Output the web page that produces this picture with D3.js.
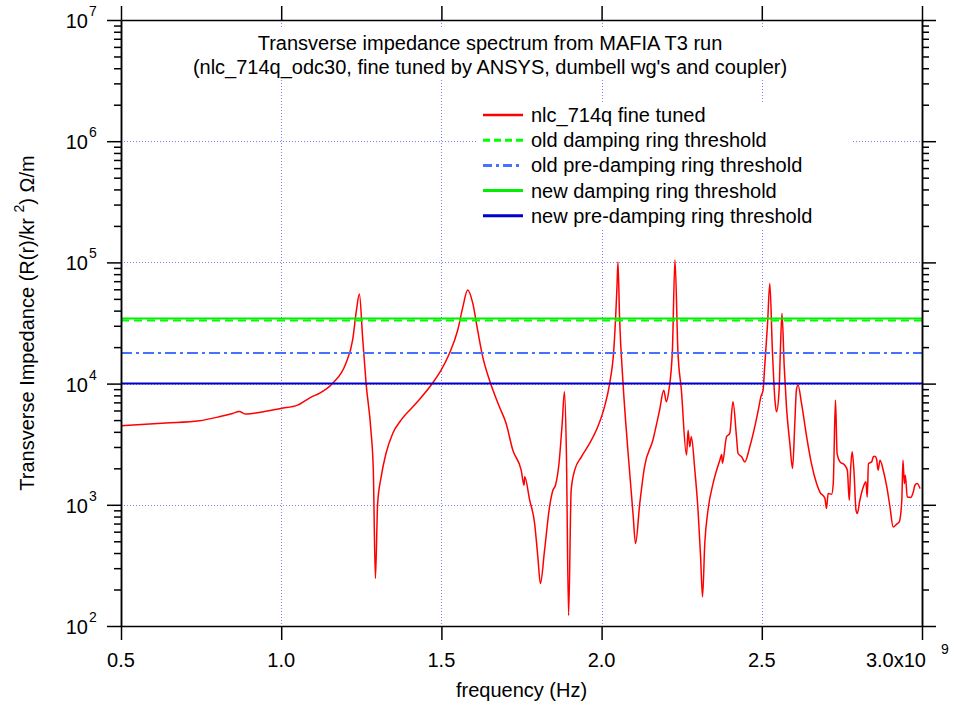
<!DOCTYPE html>
<html><head><meta charset="utf-8">
<script src="https://cdn.jsdelivr.net/npm/d3@7"></script>
<style>body{margin:0;background:#fff}svg{display:block;font-family:"Liberation Sans",Arial,Helvetica,sans-serif}</style>
</head><body><svg id="c" width="955" height="706"></svg>
<script>
// ---- data ----
const freqGHz = [0.500,0.640,0.744,0.806,0.848,0.869,0.890,0.931,0.999,1.051,1.095,1.119,1.160,1.202,1.223,1.235,1.244,1.254,1.265,1.280,1.2875,1.294,1.301,1.312,1.327,1.348,1.374,1.421,1.468,1.499,1.525,1.551,1.567,1.582,1.598,1.613,1.629,1.650,1.681,1.702,1.723,1.749,1.758,1.760,1.775,1.791,1.801,1.809,1.822,1.8375,1.848,1.856,1.867,1.877,1.884,1.890,1.897,1.905,1.916,1.937,1.9625,1.988,2.009,2.025,2.038,2.048,2.051,2.056,2.067,2.082,2.098,2.106,2.119,2.134,2.160,2.181,2.194,2.202,2.210,2.221,2.229,2.238,2.249,2.265,2.270,2.275,2.280,2.291,2.301,2.309,2.315,2.322,2.332,2.348,2.369,2.375,2.377,2.390,2.400,2.410,2.421,2.426,2.437,2.447,2.4625,2.478,2.491,2.497,2.504,2.509,2.518,2.525,2.533,2.541,2.546,2.554,2.558,2.563,2.570,2.577,2.5875,2.596,2.603,2.608,2.613,2.624,2.640,2.655,2.671,2.681,2.697,2.702,2.707,2.718,2.723,2.730,2.735,2.744,2.759,2.767,2.773,2.777,2.782,2.7875,2.794,2.798,2.806,2.817,2.825,2.829,2.833,2.843,2.848,2.853,2.858,2.863,2.869,2.879,2.890,2.900,2.910,2.921,2.929,2.937,2.9406,2.945,2.948,2.954,2.965,2.973,2.978,2.985,2.994];
const impedance = [4480,4720,4930,5320,5670,5890,5600,5780,6240,6640,7780,8300,10000,14700,22900,40500,54800,24300,10000,4130,1930,246,1023,1700,2650,3880,5000,6870,9730,12900,17700,27700,43000,59200,45900,27700,16600,10700,6430,4690,2820,1930,1450,1700,1110,700,372,224,422,962,1320,1450,2190,4690,8550,2820,122,1320,1930,2490,3210,4400,6430,10000,18900,63100,101000,35600,10000,2820,847,479,1020,2060,3410,6040,8830,7080,8830,18900,105000,18900,8830,2570,4130,3010,3640,1930,902,372,174,479,902,1500,2330,2600,2200,3640,3880,7080,3640,2650,2490,2260,3010,4400,6430,7780,8830,13800,31400,67100,18900,7310,5850,8830,18900,38000,13800,6430,3210,2000,4690,8830,9730,6870,3640,2190,1500,1280,1130,931,1240,1220,1500,7310,2650,2260,2120,1930,1090,1930,2740,1930,902,847,1090,1410,1550,1160,2190,2260,2490,2510,2400,1930,2330,1930,1410,962,656,692,723,1090,2330,1500,1750,1160,1150,1280,1450,1500,1360];
const thresholdNames = ["old damping ring threshold","old pre-damping ring threshold","new damping ring threshold","new pre-damping ring threshold"];
const thresholdValues = [33100, 17900, 34400, 10000];
const seriesName = "nlc_714q fine tuned";
const xTickValues = [0.5,1.0,1.5,2.0,2.5,3.0];
const xTickLabels = ["0.5","1.0","1.5","2.0","2.5","3.0x10"];
const yTickExponents = [2,3,4,5,6,7];
const titleLines = ["Transverse impedance spectrum from MAFIA T3 run","(nlc_714q_odc30, fine tuned by ANSYS, dumbell wg's and coupler)"];

// ---- styles ----
const thrStyles = [
  {color:"#00ff00", dash:"8,5", w:2},
  {color:"#4670ff", dash:"11,4,3,4", w:2},
  {color:"#00ee00", dash:null, w:2},
  {color:"#0000cc", dash:null, w:2}
];
const L=121, R=922, T=20, B=626;
const svg = d3.select("#c");
svg.append("rect").attr("width",955).attr("height",706).attr("fill","#fff");
const x = d3.scaleLinear().domain([0.5,3.0]).range([L,R]);
const y = d3.scaleLog().domain([1e2,1e7]).range([B,T]);

// grid
const grid = svg.append("g").attr("stroke","#7f7fff").attr("stroke-width",1).attr("stroke-dasharray","1,2");
[1.0,1.5,2.0,2.5].forEach(v=>grid.append("line").attr("x1",Math.round(x(v))+0.5).attr("x2",Math.round(x(v))+0.5).attr("y1",T).attr("y2",B));
[3,4,5,6].forEach(e=>grid.append("line").attr("x1",L).attr("x2",R).attr("y1",Math.round(y(Math.pow(10,e)))+0.5).attr("y2",Math.round(y(Math.pow(10,e)))+0.5));

// white boxes behind title and legend
svg.append("rect").attr("x",185).attr("y",29).attr("width",610).attr("height",50).attr("fill","#fff");
svg.append("rect").attr("x",478).attr("y",104).attr("width",375).attr("height",124).attr("fill","#fff");

// clip
svg.append("clipPath").attr("id","pc").append("rect").attr("x",L).attr("y",T).attr("width",R-L).attr("height",B-T);

// curve
const line = d3.line().x((d,i)=>x(freqGHz[i])).y((d,i)=>y(impedance[i])).curve(d3.curveMonotoneX);
svg.append("path").datum(impedance).attr("d",line).attr("fill","none").attr("stroke","#ff0000").attr("stroke-width",1.5).attr("clip-path","url(#pc)");

// thresholds
thresholdValues.forEach((v,i)=>{
  const s=thrStyles[i];
  const l=svg.append("line").attr("x1",L).attr("x2",R).attr("y1",y(v)).attr("y2",y(v)).attr("stroke",s.color).attr("stroke-width",s.w);
  if(s.dash) l.attr("stroke-dasharray",s.dash);
});

// axes
const minorVals=[];
for(let e=2;e<7;e++) for(let m=2;m<=9;m++) minorVals.push(m*Math.pow(10,e));
const majorVals=yTickExponents.map(e=>Math.pow(10,e));
function styleAxis(g){g.selectAll("path,line").attr("stroke","#000").attr("stroke-width",1.5);g.selectAll("text").remove();}
svg.append("g").attr("transform",`translate(${L},0)`).call(d3.axisLeft(y).tickValues(majorVals).tickSize(14).tickSizeOuter(0).tickFormat("")).call(styleAxis);
svg.append("g").attr("transform",`translate(${L},0)`).call(d3.axisLeft(y).tickValues(minorVals).tickSize(7).tickSizeOuter(0).tickFormat("")).call(styleAxis);
svg.append("g").attr("transform",`translate(${R},0)`).call(d3.axisRight(y).tickValues(majorVals).tickSize(14).tickSizeOuter(0).tickFormat("")).call(styleAxis);
svg.append("g").attr("transform",`translate(${R},0)`).call(d3.axisRight(y).tickValues(minorVals).tickSize(7).tickSizeOuter(0).tickFormat("")).call(styleAxis);
svg.append("g").attr("transform",`translate(0,${B})`).call(d3.axisBottom(x).tickValues(xTickValues).tickSize(14).tickSizeOuter(0).tickFormat("")).call(styleAxis);
svg.append("g").attr("transform",`translate(0,${T})`).call(d3.axisTop(x).tickValues(xTickValues).tickSize(14).tickSizeOuter(0).tickFormat("")).call(styleAxis);

// tick labels
const fs=20;
xTickValues.forEach((v,i)=>{
  if(i<xTickValues.length-1){
    svg.append("text").attr("x",x(v)).attr("y",667).attr("text-anchor","middle").attr("font-size",fs).text(xTickLabels[i]);
  } else {
    svg.append("text").attr("x",x(v)+4).attr("y",667).attr("text-anchor","end").attr("font-size",fs).text(xTickLabels[i]);
    svg.append("text").attr("x",x(v)+19).attr("y",654).attr("font-size",14).text("9");
  }
});
yTickExponents.forEach(e=>{
  const yy=y(Math.pow(10,e));
  svg.append("text").attr("x",88).attr("y",yy+8).attr("text-anchor","end").attr("font-size",fs).text("10");
  svg.append("text").attr("x",89).attr("y",yy-4).attr("font-size",14).text(String(e));
});

// axis titles
svg.append("text").attr("x",(L+R)/2).attr("y",697).attr("text-anchor","middle").attr("font-size",fs).text("frequency (Hz)");
const yt=svg.append("text").attr("transform",`translate(34,${(T+B)/2}) rotate(-90)`).attr("text-anchor","middle").attr("font-size",fs);
yt.append("tspan").text("Transverse Impedance (R(r)/kr ");
yt.append("tspan").attr("font-size",14).attr("dy",-10).text("2");
yt.append("tspan").attr("dy",10).text(") \u03A9/m");

// title
titleLines.forEach((t,i)=>svg.append("text").attr("x",490).attr("y",50+i*24).attr("text-anchor","middle").attr("font-size",fs).text(t));

// legend
const legNames=[seriesName].concat(thresholdNames);
const legStyles=[{color:"#ff0000",dash:null,w:2.5}].concat(thrStyles.map(s=>({color:s.color,dash:s.dash?(s.dash==="8,5"?"7,4":"9,4,3,4"):null,w:3})));
legNames.forEach((n,i)=>{
  const yy=115+i*25.2;
  const l=svg.append("line").attr("x1",483).attr("x2",523).attr("y1",yy).attr("y2",yy).attr("stroke",legStyles[i].color).attr("stroke-width",legStyles[i].w);
  if(legStyles[i].dash) l.attr("stroke-dasharray",legStyles[i].dash);
  svg.append("text").attr("x",531).attr("y",yy+7).attr("font-size",fs).text(n);
});
</script></body></html>
